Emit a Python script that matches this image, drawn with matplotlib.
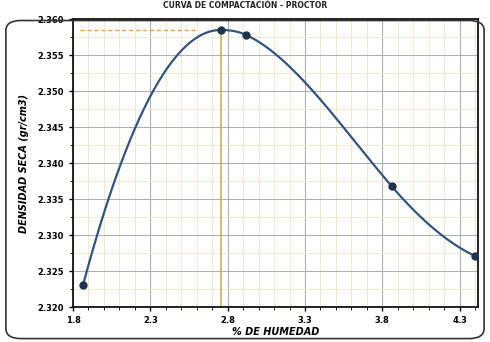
import numpy as np
import matplotlib.pyplot as plt
from matplotlib.patches import FancyBboxPatch
from matplotlib.ticker import MultipleLocator

# Ensayo Proctor: humedad vs densidad seca
humedad = [1.865, 2.755, 2.92, 3.86, 4.40]
densidad = [2.3231, 2.3585, 2.3578, 2.3368, 2.3271]
# pendientes de la curva suavizada en cada punto
pendientes = [0.080, 0.0, -0.010, -0.025, -0.010]
x_ticks = [1.8, 2.3, 2.8, 3.3, 3.8, 4.3]
y_ticks = [2.320, 2.325, 2.330, 2.335, 2.340, 2.345, 2.350, 2.355, 2.360]
hum_opt = 2.755
dens_max = 2.3585
hum_ref_start = 1.845
hum_ref_end = 2.59


def hermite_curve(x, y, m, n=60):
    xs, ys = [], []
    for i in range(len(x) - 1):
        h = x[i + 1] - x[i]
        t = np.linspace(0, 1, n)
        h00 = 2 * t ** 3 - 3 * t ** 2 + 1
        h10 = t ** 3 - 2 * t ** 2 + t
        h01 = -2 * t ** 3 + 3 * t ** 2
        h11 = t ** 3 - t ** 2
        xs.extend(x[i] + t * h)
        ys.extend(h00 * y[i] + h10 * h * m[i] + h01 * y[i + 1] + h11 * h * m[i + 1])
    return xs, ys


fig = plt.figure(figsize=(4.9, 3.42), dpi=100)
ax = fig.add_axes([0.149, 0.102, 0.827, 0.842])

fig.patches.append(FancyBboxPatch((0.012, 0.01), 0.976, 0.93,
                                  boxstyle="round,pad=0,rounding_size=0.03",
                                  transform=fig.transFigure, fill=False,
                                  edgecolor='#333333', linewidth=1.2))
fig.text(0.5, 0.998, 'CURVA DE COMPACTACIÓN - PROCTOR', ha='center', va='top',
         fontsize=5.5, fontweight='bold', color='#222222')

cx, cy = hermite_curve(humedad, densidad, pendientes)
ax.plot(cx, cy, color='#34557a', linewidth=1.6, zorder=3)
ax.plot(humedad, densidad, 'o', color='#1f3350', markersize=5, zorder=4)

ax.plot([hum_ref_start, hum_ref_end], [dens_max, dens_max], color='#e8a040',
        linestyle=(0, (3, 2)), linewidth=1.0, zorder=2)
ax.plot([hum_opt, hum_opt], [2.320, dens_max], color='#c8b060', linewidth=1.2, zorder=2)

ax.set_xlim(1.8, 4.42)
ax.set_ylim(2.320, 2.360)
ax.set_xticks(x_ticks)
ax.set_xticklabels([f'{v:.1f}' for v in x_ticks])
ax.set_yticks(y_ticks)
ax.set_yticklabels([f'{v:.3f}' for v in y_ticks])
ax.xaxis.set_minor_locator(MultipleLocator(0.1))
ax.yaxis.set_minor_locator(MultipleLocator(0.0025))
ax.grid(which='major', color='#b0b0b0', linewidth=0.8)
ax.grid(which='minor', color='#f0e6c8', linewidth=0.6)
ax.set_axisbelow(True)

ax.tick_params(labelsize=6, length=3, width=1)
for lbl in ax.get_xticklabels() + ax.get_yticklabels():
    lbl.set_fontweight('bold')
for s in ax.spines.values():
    s.set_linewidth(1.3)
    s.set_color('#111111')

ax.set_xlabel('% DE HUMEDAD', fontsize=7, fontweight='bold', style='italic', labelpad=1)
ax.set_ylabel('DENSIDAD SECA (gr/cm3)', fontsize=7, fontweight='bold', style='italic', labelpad=6)

plt.savefig('out.png', dpi=100)
